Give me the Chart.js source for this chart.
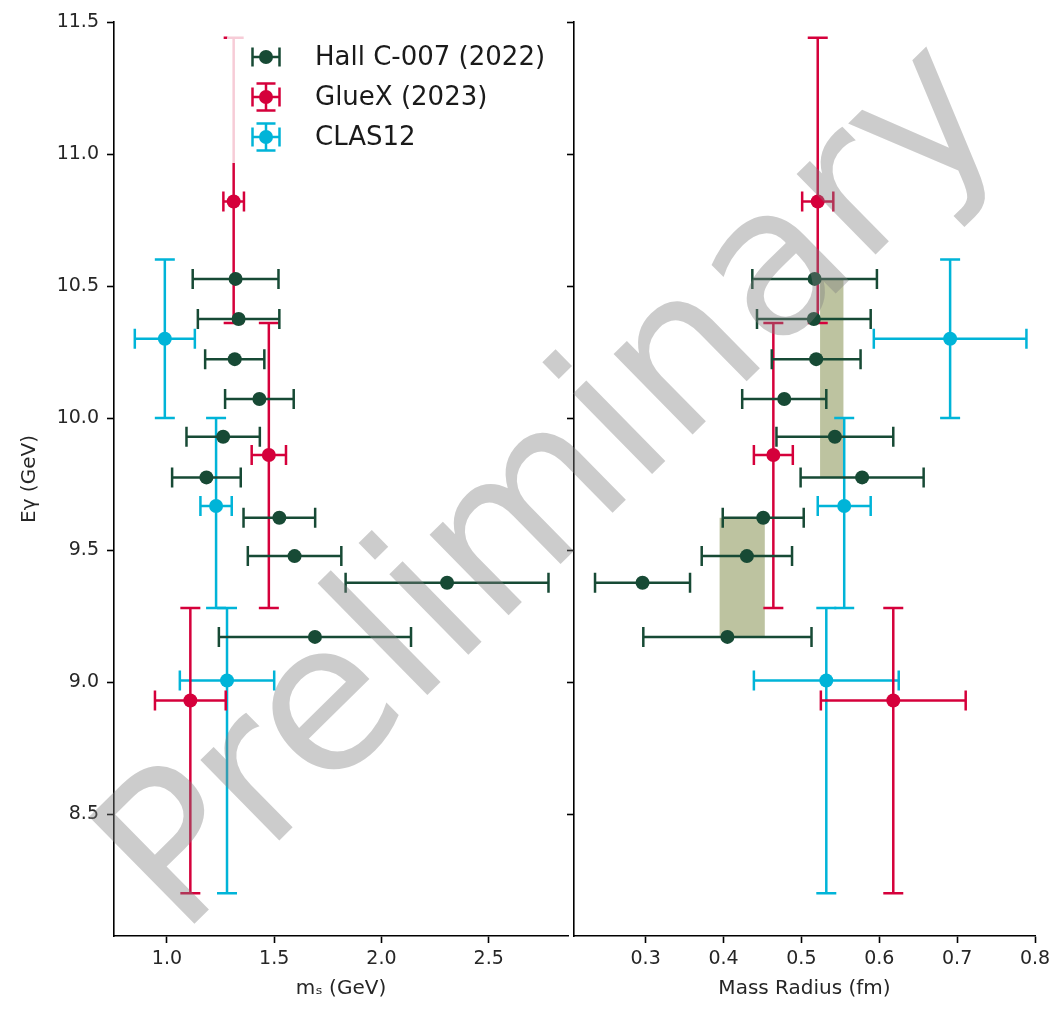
<!DOCTYPE html>
<html>
<head>
<meta charset="utf-8">
<title>Scalar mass and mass radius vs photon energy</title>
<script src="https://cdn.jsdelivr.net/npm/chart.js@4.4.0/dist/chart.umd.min.js"></script>
<style>
  body { margin: 0; background: #fff; }
  #wrap { position: relative; width: 1063px; height: 1009px; }
  canvas { position: absolute; top: 0; }
  #msChart { left: 0; }
  #radiusChart { left: 560px; }
  #mark { left: 0; pointer-events: none; }
</style>
</head>
<body>
<div id="wrap">
  <canvas id="msChart" width="575" height="1009"></canvas>
  <canvas id="radiusChart" width="503" height="1009"></canvas>
  <canvas id="mark" width="1063" height="1009"></canvas>
</div>
<script>
// Hall C-007 (2022): photon energy of each bin, scalar mass m_s and mass radius
const hallCEnergy = [10.527, 10.375, 10.223, 10.072, 9.929, 9.775, 9.622, 9.477, 9.376, 9.171];
const hallCMs = [1.320, 1.334, 1.316, 1.431, 1.262, 1.184, 1.524, 1.595, 2.306, 1.690];
const hallCMsErr = [0.200, 0.190, 0.138, 0.160, 0.171, 0.160, 0.167, 0.218, 0.473, 0.448];
const hallCRadius = [0.517, 0.516, 0.519, 0.478, 0.543, 0.578, 0.451, 0.430, 0.296, 0.405];
const hallCRadiusErr = [0.080, 0.073, 0.057, 0.054, 0.075, 0.079, 0.052, 0.058, 0.061, 0.108];

// GlueX (2023): energy bins are not centred on the mean, so keep both edges
const glueXEnergy = [10.82, 9.86, 8.93];
const glueXEnergyLo = [10.36, 9.28, 8.20];
const glueXEnergyHi = [11.44, 10.36, 9.28];
const glueXMs = [1.311, 1.475, 1.109];
const glueXMsErr = [0.048, 0.080, 0.165];
const glueXRadius = [0.521, 0.464, 0.618];
const glueXRadiusErr = [0.020, 0.025, 0.093];

// CLAS12
const clas12Energy = [10.30, 9.667, 9.006];
const clas12EnergyLo = [10.00, 9.28, 8.20];
const clas12EnergyHi = [10.60, 10.00, 9.28];
const clas12Ms = [0.990, 1.229, 1.280];
const clas12MsErr = [0.140, 0.073, 0.220];
const clas12Radius = [0.691, 0.555, 0.532];
const clas12RadiusErr = [0.098, 0.034, 0.093];

// Hall C radius bands (radius range x energy range)
const bandRadiusLo = [0.524, 0.395];
const bandRadiusHi = [0.554, 0.453];
const bandEnergyLo = [9.775, 9.171];
const bandEnergyHi = [10.527, 9.622];

const energyTicks = [8.5, 9.0, 9.5, 10.0, 10.5, 11.0, 11.5];
const msTicks = [1.0, 1.5, 2.0, 2.5];
const radiusTicks = [0.3, 0.4, 0.5, 0.6, 0.7, 0.8];

const GREEN = "#174a35";
const RED = "#d5003b";
const CYAN = "#00b4d8";
const FONT = "'DejaVu Sans', sans-serif";
const TEXT = "#262626";
const MARKER = 7;

function makeSet(label, color, xs, ys, xErr, yLo, yHi) {
  return {
    label: label,
    data: xs.map((v, i) => ({ x: v, y: ys[i] })),
    xErr: xErr, yLo: yLo, yHi: yHi,
    backgroundColor: color, borderColor: color,
    pointRadius: MARKER, pointHoverRadius: MARKER, pointBorderWidth: 0, showLine: false
  };
}

// Error bars with caps, drawn just before each dataset's markers
const errorBars = {
  id: "errorBars",
  beforeDatasetDraw(chart, args) {
    const ds = chart.data.datasets[args.index];
    const { ctx, scales: { x, y } } = chart;
    const cap = 10;
    ctx.save();
    ctx.strokeStyle = ds.borderColor;
    ctx.lineWidth = 2.5;
    ds.data.forEach((p, i) => {
      const px = x.getPixelForValue(p.x), py = y.getPixelForValue(p.y);
      ctx.beginPath();
      if (ds.xErr) {
        const x0 = x.getPixelForValue(p.x - ds.xErr[i]);
        const x1 = x.getPixelForValue(p.x + ds.xErr[i]);
        ctx.moveTo(x0, py); ctx.lineTo(x1, py);
        ctx.moveTo(x0, py - cap); ctx.lineTo(x0, py + cap);
        ctx.moveTo(x1, py - cap); ctx.lineTo(x1, py + cap);
      }
      if (ds.yLo) {
        const y0 = y.getPixelForValue(ds.yLo[i]);
        const y1 = y.getPixelForValue(ds.yHi[i]);
        ctx.moveTo(px, y0); ctx.lineTo(px, y1);
        ctx.moveTo(px - cap, y0); ctx.lineTo(px + cap, y0);
        ctx.moveTo(px - cap, y1); ctx.lineTo(px + cap, y1);
      }
      ctx.stroke();
    });
    ctx.restore();
  }
};

// Shaded Hall C bands behind everything on the radius panel
const radiusBands = {
  id: "radiusBands",
  beforeDatasetsDraw(chart) {
    const { ctx, scales: { x, y } } = chart;
    ctx.save();
    ctx.fillStyle = "rgba(123,135,65,0.5)";
    bandRadiusLo.forEach((r0, i) => {
      const x0 = x.getPixelForValue(r0), x1 = x.getPixelForValue(bandRadiusHi[i]);
      const y0 = y.getPixelForValue(bandEnergyHi[i]), y1 = y.getPixelForValue(bandEnergyLo[i]);
      ctx.fillRect(x0, y0, x1 - x0, y1 - y0);
    });
    ctx.restore();
  }
};

// Legend with errorbar handles, semi-transparent frame over the data
const errLegend = {
  id: "errLegend",
  afterDraw(chart) {
    const ctx = chart.ctx;
    ctx.save();
    ctx.fillStyle = "rgba(255,255,255,0.8)";
    ctx.beginPath();
    ctx.roundRect(227, 33, 335, 130, 5);
    ctx.fill();
    chart.data.datasets.forEach((ds, i) => {
      const cx = 266, cy = 57 + i * 40, h = 13.5, cap = 9.5;
      ctx.strokeStyle = ds.borderColor;
      ctx.fillStyle = ds.borderColor;
      ctx.lineWidth = 2.5;
      ctx.beginPath();
      ctx.moveTo(cx - h, cy); ctx.lineTo(cx + h, cy);
      ctx.moveTo(cx - h, cy - cap); ctx.lineTo(cx - h, cy + cap);
      ctx.moveTo(cx + h, cy - cap); ctx.lineTo(cx + h, cy + cap);
      if (ds.yLo) {
        ctx.moveTo(cx, cy - h); ctx.lineTo(cx, cy + h);
        ctx.moveTo(cx - cap, cy - h); ctx.lineTo(cx + cap, cy - h);
        ctx.moveTo(cx - cap, cy + h); ctx.lineTo(cx + cap, cy + h);
      }
      ctx.stroke();
      ctx.beginPath();
      ctx.arc(cx, cy, MARKER, 0, Math.PI * 2);
      ctx.fill();
      ctx.fillStyle = "#1a1a1a";
      ctx.font = "26px " + FONT;
      ctx.textBaseline = "middle";
      ctx.fillText(ds.label, 315, cy + 1);
    });
    ctx.restore();
  }
};

const axisGrid = { drawOnChartArea: false, color: "#000", tickLength: 7, tickWidth: 1.6 };
const axisBorder = { display: true, color: "#000", width: 1.6 };
const tickFont = { family: FONT, size: 19 };
const titleFont = { family: FONT, size: 20 };

function energyAxis(showLabels, width) {
  return {
    type: "linear", min: 8.038, max: 11.5,
    afterBuildTicks: s => { s.ticks = energyTicks.map(v => ({ value: v })); },
    afterFit: s => { s.width = width; },
    grid: axisGrid, border: axisBorder,
    ticks: { display: showLabels, font: tickFont, color: TEXT, padding: 8, callback: v => v.toFixed(1) },
    title: { display: showLabels, text: "Eγ (GeV)", font: titleFont, color: TEXT, padding: { top: 18, bottom: 0 } }
  };
}

function bottomAxis(min, max, ticks, label) {
  return {
    type: "linear", min: min, max: max,
    afterBuildTicks: s => { s.ticks = ticks.map(v => ({ value: v })); },
    afterFit: s => { s.height = 73; },
    grid: axisGrid, border: axisBorder,
    ticks: { font: tickFont, color: TEXT, padding: 5, maxRotation: 0, callback: v => v.toFixed(1) },
    title: { display: true, text: label, font: titleFont, color: TEXT, padding: { top: 0, bottom: 8 } }
  };
}

function baseOptions(padding, xScale, yScale) {
  return {
    responsive: false, animation: false, devicePixelRatio: 1, events: [],
    layout: { padding: padding },
    plugins: { legend: { display: false }, tooltip: { enabled: false } },
    scales: { x: xScale, y: yScale }
  };
}

new Chart(document.getElementById("msChart"), {
  type: "scatter",
  data: {
    datasets: [
      makeSet("Hall C-007 (2022)", GREEN, hallCMs, hallCEnergy, hallCMsErr),
      makeSet("GlueX (2023)", RED, glueXMs, glueXEnergy, glueXMsErr, glueXEnergyLo, glueXEnergyHi),
      makeSet("CLAS12", CYAN, clas12Ms, clas12Energy, clas12MsErr, clas12EnergyLo, clas12EnergyHi)
    ]
  },
  options: baseOptions({ top: 22, right: 1, left: 0, bottom: 0 },
    bottomAxis(0.753, 2.87, msTicks, "mₛ (GeV)"), energyAxis(true, 114)),
  plugins: [errorBars, errLegend]
});

new Chart(document.getElementById("radiusChart"), {
  type: "scatter",
  data: {
    datasets: [
      makeSet("Hall C-007 (2022)", GREEN, hallCRadius, hallCEnergy, hallCRadiusErr),
      makeSet("GlueX (2023)", RED, glueXRadius, glueXEnergy, glueXRadiusErr, glueXEnergyLo, glueXEnergyHi),
      makeSet("CLAS12", CYAN, clas12Radius, clas12Energy, clas12RadiusErr, clas12EnergyLo, clas12EnergyHi)
    ]
  },
  options: baseOptions({ top: 22, right: 28, left: 0, bottom: 0 },
    bottomAxis(0.208, 0.8, radiusTicks, "Mass Radius (fm)"), energyAxis(false, 14)),
  plugins: [radiusBands, errorBars]
});

// Watermark across both panels
const mark = document.getElementById("mark").getContext("2d");
mark.save();
mark.translate(180, 938);
mark.rotate(-44.5 * Math.PI / 180);
mark.font = "206px " + FONT;
mark.fillStyle = "rgba(128,128,128,0.4)";
mark.fillText("Preliminary", 0, 0);
mark.restore();
</script>
</body>
</html>
